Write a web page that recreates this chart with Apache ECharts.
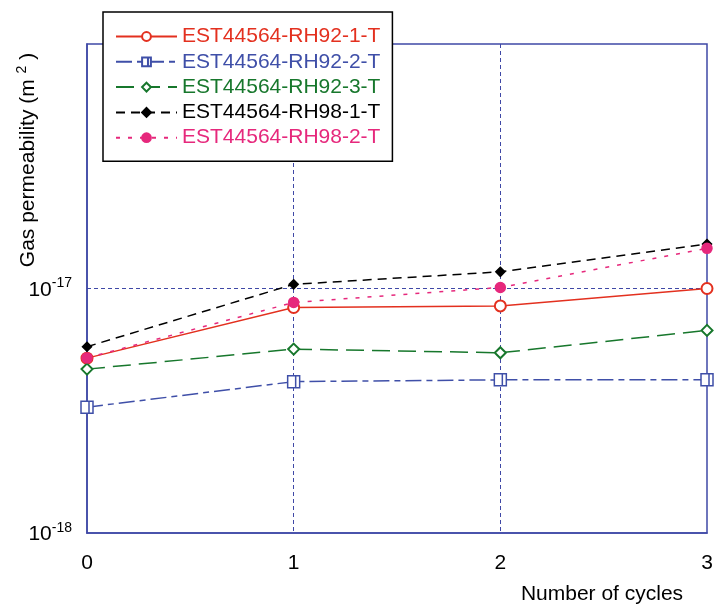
<!DOCTYPE html>
<html>
<head>
<meta charset="utf-8">
<script src="https://cdn.jsdelivr.net/npm/echarts@6/dist/echarts.min.js"></script>
<style>html,body{margin:0;padding:0;background:#fff;}#c{width:723px;height:607px;}</style>
</head>
<body>
<div id="c"></div>
<script>
const cycles = [0, 1, 2, 3];
const seriesNames = ['EST44564-RH92-1-T', 'EST44564-RH92-2-T', 'EST44564-RH92-3-T', 'EST44564-RH98-1-T', 'EST44564-RH98-2-T'];
const rh92_1 = [5.19e-18, 8.36e-18, 8.49e-18, 1.0e-17];
const rh92_2 = [3.27e-18, 4.16e-18, 4.23e-18, 4.23e-18];
const rh92_3 = [4.68e-18, 5.65e-18, 5.46e-18, 6.74e-18];
const rh98_1 = [5.78e-18, 1.04e-17, 1.17e-17, 1.52e-17];
const rh98_2 = [5.2e-18, 8.77e-18, 1.01e-17, 1.46e-17];
const xTickLabels = ['0', '1', '2', '3'];
const xAxisTitle = 'Number of cycles';

const AX = '#3f48a6';
const FONT = '"Liberation Sans", Arial, sans-serif';
const colors = ['#e3301f', '#3f4fa8', '#17772c', '#000000', '#e6287c'];
const values = [rh92_1, rh92_2, rh92_3, rh98_1, rh98_2];
const symbols = ['emptyCircle', 'path://M0,0H12V12H0ZM8,0V12', 'emptyDiamond', 'diamond', 'circle'];
const symbolSizes = [11, 12, 11, 9, 10];
const dashes = ['solid', [16, 5, 6, 5], [18, 8], [9, 6], [4, 8]];

function pairs(arr) { return cycles.map((c, i) => [c, arr[i]]); }

const series = seriesNames.map((n, i) => {
  const s = {
    name: n, type: 'line', data: pairs(values[i]),
    symbol: symbols[i], symbolSize: symbolSizes[i], showSymbol: true,
    lineStyle: {color: colors[i], width: 1.5, type: dashes[i]},
    itemStyle: {color: colors[i], borderColor: colors[i], borderWidth: 1.5},
    emphasis: {disabled: true}, animation: false, z: 3 + i
  };
  if (i === 1) s.itemStyle = {color: '#ffffff', borderColor: colors[i], borderWidth: 1.5};
  return s;
});

const chart = echarts.init(document.getElementById('c'), null, {renderer: 'canvas'});
chart.setOption({
  animation: false,
  backgroundColor: '#ffffff',
  grid: {left: 87, top: 44, right: 16, bottom: 74, show: true, borderColor: AX, borderWidth: 1.5, backgroundColor: 'transparent'},
  xAxis: {
    type: 'value', min: 0, max: 3, interval: 1,
    axisLine: {show: true, lineStyle: {color: AX, width: 1.5}},
    axisTick: {show: false},
    axisLabel: {color: '#000', fontFamily: FONT, fontSize: 21, margin: 20,
      formatter: v => xTickLabels[cycles.indexOf(v)] ?? ''},
    splitLine: {show: true, showMinLine: false, showMaxLine: false, lineStyle: {color: AX, width: 1, type: [4, 3]}}
  },
  yAxis: {
    type: 'log', logBase: 10, min: 1e-18, max: 1e-16,
    axisLine: {show: true, lineStyle: {color: AX, width: 1.5}},
    axisTick: {show: false},
    minorTick: {show: false},
    axisLabel: {
      margin: 15,
      formatter: v => {
        const e = Math.round(Math.log10(v));
        if (e >= -16) return '';
        return '{b|10}{s|' + e + '}';
      },
      rich: {
        b: {fontFamily: FONT, fontSize: 21, color: '#000', verticalAlign: 'bottom'},
        s: {fontFamily: FONT, fontSize: 14, color: '#000', padding: [0, 0, 10, 0], verticalAlign: 'bottom'}
      }
    },
    splitLine: {show: true, showMinLine: false, showMaxLine: false, lineStyle: {color: AX, width: 1, type: [4, 3]}}
  },
  legend: {
    orient: 'vertical', left: 103, top: 12,
    padding: [14, 12, 13, 12],
    itemWidth: 61, itemHeight: 11, itemGap: 4.3,
    backgroundColor: '#ffffff', borderColor: '#000', borderWidth: 1.5, borderRadius: 0,
    z: 20,
    data: seriesNames.map((n, i) => ({name: n, textStyle: {color: colors[i]}})),
    textStyle: {fontFamily: FONT, fontSize: 21, lineHeight: 21},
    selectedMode: false
  },
  graphic: [
    {
      type: 'text', x: 27, y: 160, rotation: Math.PI / 2, z: 10,
      style: {
        text: '{b|Gas permeability (m }{s|2}{b| )}',
        align: 'center', verticalAlign: 'middle',
        rich: {
          b: {fontFamily: FONT, fontSize: 21, fill: '#000', verticalAlign: 'bottom'},
          s: {fontFamily: FONT, fontSize: 14, fill: '#000', padding: [0, 0, 10, 0], verticalAlign: 'bottom'}
        }
      }
    },
    {
      type: 'text', x: 602, y: 594, z: 10,
      style: {text: xAxisTitle, fontFamily: FONT, fontSize: 21, fill: '#000', align: 'center', verticalAlign: 'middle'}
    }
  ],
  series: series
});
</script>
</body>
</html>
